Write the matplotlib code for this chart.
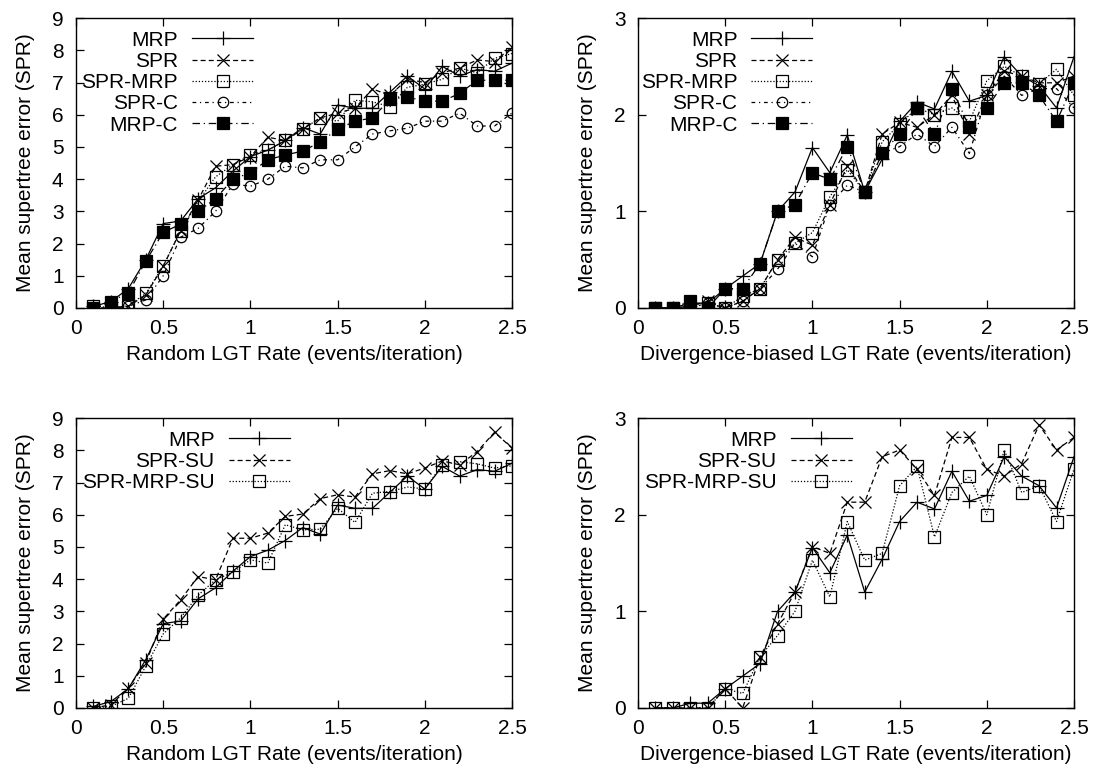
import numpy as np
import matplotlib
matplotlib.use("Agg")
import matplotlib.pyplot as plt

plt.rcParams['font.family'] = ['Liberation Sans', 'DejaVu Sans']

# LGT rates 0.1 .. 2.5
rate = [0.1, 0.2, 0.3, 0.4, 0.5, 0.6, 0.7, 0.8, 0.9, 1.0, 1.1, 1.2, 1.3,
        1.4, 1.5, 1.6, 1.7, 1.8, 1.9, 2.0, 2.1, 2.2, 2.3, 2.4, 2.5]

# ---- random LGT (top left)
rnd_mrp = [0.05, 0.2, 0.6, 1.5, 2.62, 2.7, 3.39, 3.73, 4.25, 4.7, 4.9, 5.2, 5.6,
           5.4, 6.3, 6.2, 6.2, 6.7, 7.2, 6.8, 7.5, 7.2, 7.4, 7.35, 7.6]
rnd_spr = [0.0, 0.0, 0.05, 0.4, 1.3, 2.4, 3.35, 4.4, 4.45, 4.7, 5.3, 5.2, 5.55,
           5.9, 6.05, 6.2, 6.8, 6.6, 7.1, 7.0, 7.3, 7.45, 7.7, 7.65, 8.1]
rnd_sprmrp = [0.07, 0.0, 0.07, 0.45, 1.3, 2.4, 3.3, 4.07, 4.45, 4.75, 4.9, 5.2, 5.55,
              5.9, 5.8, 6.45, 6.4, 6.25, 6.85, 6.95, 7.1, 7.45, 7.3, 7.75, 7.9]
rnd_sprc = [0.0, 0.0, 0.05, 0.25, 1.0, 2.2, 2.47, 3.0, 3.85, 3.78, 4.0, 4.4, 4.35,
            4.6, 4.6, 5.0, 5.4, 5.5, 5.58, 5.8, 5.8, 6.05, 5.65, 5.65, 6.05]
rnd_mrpc = [0.0, 0.2, 0.47, 1.45, 2.35, 2.6, 3.0, 3.39, 4.0, 4.2, 4.6, 4.75, 4.87,
            5.15, 5.55, 5.8, 5.9, 6.48, 6.55, 6.42, 6.42, 6.66, 7.07, 7.07, 7.07]

# ---- divergence-biased LGT (top right)
div_mrp = [0.0, 0.0, 0.05, 0.05, 0.2, 0.33, 0.46, 1.0, 1.2, 1.66, 1.4, 1.79, 1.2,
           1.54, 1.93, 2.13, 2.06, 2.45, 2.14, 2.2, 2.6, 2.4, 2.3, 2.07, 2.6]
div_spr = [0.0, 0.0, 0.02, 0.07, 0.0, 0.07, 0.2, 0.5, 0.73, 0.65, 1.07, 1.47, 1.2,
           1.8, 1.92, 1.87, 2.0, 2.2, 1.8, 2.2, 2.45, 2.4, 2.33, 2.33, 2.4]
div_sprmrp = [0.0, 0.0, 0.0, 0.05, 0.0, 0.12, 0.2, 0.5, 0.67, 0.78, 1.15, 1.43, 1.2,
              1.72, 1.9, 2.07, 2.0, 2.07, 1.93, 2.35, 2.5, 2.4, 2.32, 2.47, 2.2]
div_sprc = [0.0, 0.0, 0.0, 0.05, 0.0, 0.07, 0.2, 0.4, 0.67, 0.53, 1.07, 1.27, 1.2,
            1.6, 1.67, 1.8, 1.67, 1.87, 1.6, 2.2, 2.4, 2.2, 2.27, 2.27, 2.07]
div_mrpc = [0.0, 0.0, 0.07, 0.0, 0.2, 0.2, 0.46, 1.0, 1.07, 1.4, 1.33, 1.67, 1.2,
            1.6, 1.8, 2.07, 1.8, 2.27, 1.87, 2.07, 2.33, 2.33, 2.2, 1.93, 2.33]

# ---- SU variants
rnd_sprsu = [0.0, 0.1, 0.62, 1.4, 2.76, 3.36, 4.08, 3.98, 5.27, 5.27, 5.43, 5.95, 6.02,
             6.5, 6.62, 6.55, 7.27, 7.37, 7.27, 7.45, 7.67, 7.55, 7.96, 8.56, 8.07]
rnd_sprmrpsu = [0.0, 0.05, 0.3, 1.3, 2.3, 2.8, 3.5, 3.98, 4.22, 4.6, 4.5, 5.69, 5.53,
                5.55, 6.2, 5.76, 6.67, 6.72, 6.86, 6.8, 7.55, 7.65, 7.58, 7.45, 7.52]
div_sprsu = [0.0, 0.0, 0.0, 0.0, 0.2, 0.0, 0.53, 0.87, 1.2, 1.67, 1.6, 2.13, 2.13,
             2.6, 2.67, 2.47, 2.2, 2.8, 2.8, 2.47, 2.4, 2.53, 2.93, 2.67, 2.8]
div_sprmrpsu = [0.0, 0.0, 0.0, 0.0, 0.2, 0.15, 0.53, 0.75, 1.0, 1.53, 1.15, 1.93, 1.53,
                1.6, 2.3, 2.5, 1.77, 2.23, 2.4, 2.0, 2.67, 2.23, 2.3, 1.93, 2.47]

xticks = [0, 0.5, 1, 1.5, 2, 2.5]
xticklabels = ['0', '0.5', '1', '1.5', '2', '2.5']

styles = {
    'MRP':        dict(ls='-', marker='+', ms=10, mfc='none'),
    'SPR':        dict(ls=(0, (4, 2.5)), marker='x', ms=8, mfc='none'),
    'SPR-MRP':    dict(ls=(0, (1, 1.5)), marker='s', ms=8, mfc='none'),
    'SPR-C':      dict(ls=(0, (3, 3, 1, 3)), marker='o', ms=7.5, mfc='none'),
    'MRP-C':      dict(ls=(0, (6, 3, 1, 3)), marker='s', ms=8, mfc='black'),
    'SPR-SU':     dict(ls=(0, (4, 2.5)), marker='x', ms=8, mfc='none'),
    'SPR-MRP-SU': dict(ls=(0, (1, 1.5)), marker='s', ms=8, mfc='none'),
}

fig = plt.figure(figsize=(10.94, 7.73), dpi=100)
FS = 15

def panel(rect, ymax, series, xlabel, legx):
    ax = fig.add_axes(rect)
    for name, vals in series:
        st = styles[name]
        ax.plot(rate, vals, color='black', lw=0.9, ls=st['ls'], marker=st['marker'],
                ms=st['ms'], mfc=st['mfc'], mec='black', mew=0.9, label=name)
    ax.set_xlim(0, 2.5)
    ax.set_ylim(0, ymax)
    ax.set_xticks(xticks)
    ax.set_xticklabels(xticklabels)
    ax.set_yticks(range(0, ymax + 1))
    ax.tick_params(direction='in', top=True, right=True, length=6, width=0.9,
                   labelsize=FS)
    ax.tick_params(axis='x', pad=8)
    ax.tick_params(axis='y', pad=9)
    for s in ax.spines.values():
        s.set_linewidth(1.0)
    ax.set_xlabel(xlabel, fontsize=FS, labelpad=5)
    ax.set_ylabel('Mean supertree error (SPR)', fontsize=FS, labelpad=12)
    ax.legend(loc='upper right', bbox_to_anchor=(legx, 0.957), frameon=False,
              markerfirst=False, fontsize=FS, handlelength=2.93, handletextpad=0.67,
              labelspacing=0.11, borderpad=0, borderaxespad=0)
    return ax

W, H = 0.3985, 0.375
panel([0.0695, 0.6016, W, H], 9,
      [('MRP', rnd_mrp), ('SPR', rnd_spr), ('SPR-MRP', rnd_sprmrp),
       ('SPR-C', rnd_sprc), ('MRP-C', rnd_mrpc)],
      'Random LGT Rate (events/iteration)', 0.406)
panel([0.5832, 0.6016, W, H], 3,
      [('MRP', div_mrp), ('SPR', div_spr), ('SPR-MRP', div_sprmrp),
       ('SPR-C', div_sprc), ('MRP-C', div_mrpc)],
      'Divergence-biased LGT Rate (events/iteration)', 0.40)
panel([0.0695, 0.0841, W, H], 9,
      [('MRP', rnd_mrp), ('SPR-SU', rnd_sprsu), ('SPR-MRP-SU', rnd_sprmrpsu)],
      'Random LGT Rate (events/iteration)', 0.49)
panel([0.5832, 0.0841, W, H], 3,
      [('MRP', div_mrp), ('SPR-SU', div_sprsu), ('SPR-MRP-SU', div_sprmrpsu)],
      'Divergence-biased LGT Rate (events/iteration)', 0.49)

fig.savefig('out.png', dpi=100)
